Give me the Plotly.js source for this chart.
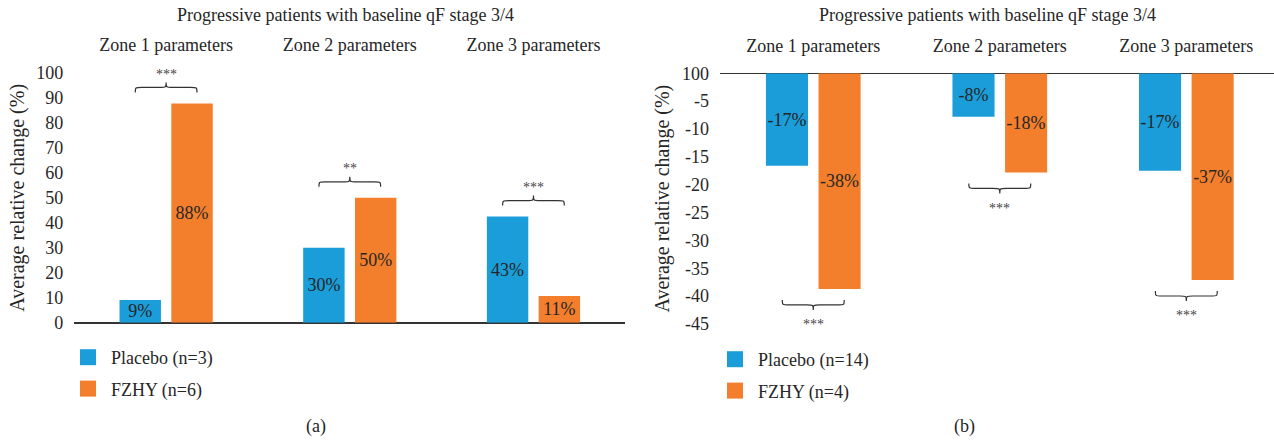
<!DOCTYPE html>
<html><head><meta charset="utf-8">
<script src="https://cdn.plot.ly/plotly-3.0.1.min.js"></script>
<style>html,body{margin:0;padding:0;background:#fff;} #chart{width:1274px;height:440px;}</style>
</head><body><div id="chart"></div>
<script>
// ---------- data ----------
const zones = ['Zone 1 parameters', 'Zone 2 parameters', 'Zone 3 parameters'];
const legendNamesA = ['Placebo (n=3)', 'FZHY (n=6)'];
const legendNamesB = ['Placebo (n=14)', 'FZHY (n=4)'];
const placeboA = [9.1, 30.0, 42.5];
const fzhyA = [87.8, 50.0, 10.7];
const placeboALabels = ['9%', '30%', '43%'];
const fzhyALabels = ['88%', '50%', '11%'];
const placeboB = [-16.6, -7.8, -17.5];
const fzhyB = [-38.7, -17.8, -37.1];
const placeboBLabels = ['-17%', '-8%', '-17%'];
const fzhyBLabels = ['-38%', '-18%', '-37%'];
const sigA = ['***', '**', '***'];
const sigB = ['***', '***', '***'];
const yTicksA = [0, 10, 20, 30, 40, 50, 60, 70, 80, 90, 100];
const yTickTextA = ['0', '10', '20', '30', '40', '50', '60', '70', '80', '90', '100'];
const yTicksB = [0, -5, -10, -15, -20, -25, -30, -35, -40, -45];
const yTickTextB = ['100', '-5', '-10', '-15', '-20', '-25', '-30', '-35', '-40', '-45'];
const chartTitle = 'Progressive patients with baseline qF stage 3/4';
const yTitle = 'Average relative change (%)';
const panelLabels = ['(a)', '(b)'];

// ---------- styling ----------
const W = 1274, H = 440;
const BLUE = '#1b9dd9', ORANGE = '#f37f2c', TXT = '#262626', LINE = '#333333';
const FONT = 'Liberation Serif, Times New Roman, serif';
const px = (v) => v / W, py = (v) => (H - v) / H;

const domA = {x: [74.3, 625.3], y: [322.7, 73]};
const domB = {x: [720, 1274], y: [324, 73.3]};
const rangeA = [0, 100], rangeB = [-45, 0];
const ppuA = (domA.y[0] - domA.y[1]) / (rangeA[1] - rangeA[0]);
const ppuB = (domB.y[0] - domB.y[1]) / (rangeB[1] - rangeB[0]);

function barTrace(xa, ya, vals, labels, name, color) {
  return {
    type: 'bar', x: zones, y: vals, name: name, xaxis: xa, yaxis: ya,
    marker: {color: color}, text: labels, textposition: 'inside',
    insidetextanchor: 'middle', textangle: 0, constraintext: 'none',
    textfont: {family: FONT, size: 18, color: TXT},
    hoverinfo: 'skip', showlegend: false
  };
}
// legend entries (square swatches) for each panel
function legendEntry(xa, ya, name, color, legend) {
  return {
    type: 'scatter', mode: 'markers', x: [zones[0]], y: [null], xaxis: xa, yaxis: ya,
    name: name, marker: {symbol: 'square', size: 16, color: color, line: {width: 0}},
    legend: legend, legendgroup: name, showlegend: true, hoverinfo: 'skip'
  };
}

const data = [
  barTrace('x', 'y', placeboA, placeboALabels, legendNamesA[0], BLUE),
  barTrace('x', 'y', fzhyA, fzhyALabels, legendNamesA[1], ORANGE),
  barTrace('x2', 'y2', placeboB, placeboBLabels, legendNamesB[0], BLUE),
  barTrace('x2', 'y2', fzhyB, fzhyBLabels, legendNamesB[1], ORANGE),
  legendEntry('x', 'y', legendNamesA[0], BLUE, 'legend'),
  legendEntry('x', 'y', legendNamesA[1], ORANGE, 'legend'),
  legendEntry('x2', 'y2', legendNamesB[0], BLUE, 'legend2'),
  legendEntry('x2', 'y2', legendNamesB[1], ORANGE, 'legend2')
];

// curly braces over/under each pair of bars
function bracePath(c, w, d, yb, h) {
  const x0 = c - w, x1 = c + w, yl = yb + h / 2, yt = yb + h;
  return `M${x0},${yb} C${x0},${yl} ${x0},${yl} ${x0 + d},${yl} L${c - d},${yl} ` +
         `C${c},${yl} ${c},${yl} ${c},${yt} C${c},${yl} ${c},${yl} ${c + d},${yl} ` +
         `L${x1 - d},${yl} C${x1},${yl} ${x1},${yl} ${x1},${yb}`;
}
const shapes = [];
const annotations = [];
zones.forEach((z, i) => {
  const topA = Math.max(placeboA[i], fzhyA[i]) + 11 / ppuA;
  shapes.push({type: 'path', xref: 'x', yref: 'y', path: bracePath(i, 0.168, 0.035, topA, 10 / ppuA),
    line: {color: LINE, width: 1.2}});
  annotations.push({xref: 'x', yref: 'y', x: i, y: topA, yshift: 18, xanchor: 'center', yanchor: 'middle',
    text: sigA[i], showarrow: false, font: {family: FONT, size: 14, color: '#444'}});
  const botB = Math.min(placeboB[i], fzhyB[i]) - 11 / ppuB;
  shapes.push({type: 'path', xref: 'x2', yref: 'y2', path: bracePath(i, 0.166, 0.035, botB, -10 / ppuB),
    line: {color: LINE, width: 1.2}});
  annotations.push({xref: 'x2', yref: 'y2', x: i, y: botB, yshift: -25, xanchor: 'center', yanchor: 'middle',
    text: sigB[i], showarrow: false, font: {family: FONT, size: 14, color: '#444'}});
});
function paperText(x, y, text) {
  return {xref: 'paper', yref: 'paper', x: px(x), y: py(y), xanchor: 'center', yanchor: 'middle',
    text: text, showarrow: false, font: {family: FONT, size: 18, color: TXT}};
}
annotations.push(
  paperText(345, 15, chartTitle),
  paperText(987, 15, chartTitle),
  paperText(316, 426, panelLabels[0]),
  paperText(964, 426, panelLabels[1])
);

const xCommon = {type: 'category', side: 'top', showgrid: false, showline: false, zeroline: false,
  ticks: '', ticklabelstandoff: 17, tickfont: {family: FONT, size: 18, color: TXT}, fixedrange: true};
const yCommon = {showgrid: false, showline: false, zeroline: true, zerolinecolor: LINE, zerolinewidth: 1.6,
  ticks: '', ticklabelstandoff: 10, tickmode: 'array', tickfont: {family: FONT, size: 18, color: TXT},
  title: {text: yTitle, font: {family: FONT, size: 20, color: TXT}, standoff: 6}, fixedrange: true};

const legendCommon = {orientation: 'v', xanchor: 'left', yanchor: 'top', bgcolor: 'rgba(0,0,0,0)',
  font: {family: FONT, size: 18, color: TXT}, tracegroupgap: 5, traceorder: 'grouped',
  itemwidth: 36, itemclick: false};

const layout = {
  width: W, height: H, margin: {l: 0, r: 0, t: 0, b: 0}, paper_bgcolor: '#fff', plot_bgcolor: '#fff',
  font: {family: FONT, color: TXT},
  barmode: 'group', bargap: 0.436, bargroupgap: 0.2,
  xaxis: Object.assign({}, xCommon, {domain: [px(domA.x[0]), px(domA.x[1])], anchor: 'y', range: [-0.5, 2.5]}),
  yaxis: Object.assign({}, yCommon, {domain: [py(domA.y[0]), py(domA.y[1])], anchor: 'x', range: rangeA,
    tickvals: yTicksA, ticktext: yTickTextA}),
  xaxis2: Object.assign({}, xCommon, {domain: [px(domB.x[0]), px(domB.x[1])], anchor: 'y2', range: [-0.5, 2.47]}),
  yaxis2: Object.assign({}, yCommon, {domain: [py(domB.y[0]), py(domB.y[1])], anchor: 'x2', range: rangeB,
    tickvals: yTicksB, ticktext: yTickTextB}),
  legend: Object.assign({}, legendCommon, {x: px(65), y: py(339)}),
  legend2: Object.assign({}, legendCommon, {x: px(712), y: py(341)}),
  shapes: shapes, annotations: annotations, showlegend: true
};

Plotly.newPlot('chart', data, layout, {displayModeBar: false, staticPlot: true});
</script></body></html>
